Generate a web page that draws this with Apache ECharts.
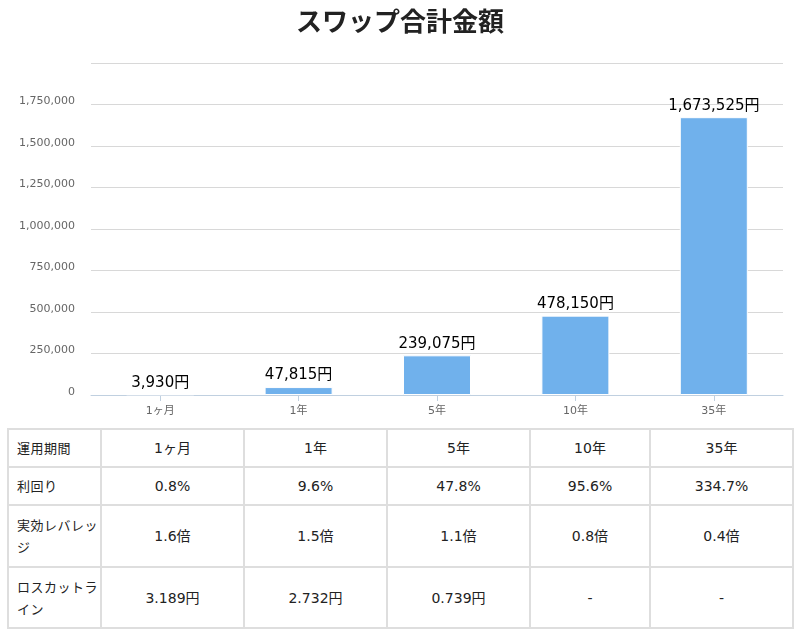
<!DOCTYPE html>
<html>
<head>
<meta charset="utf-8">
<script src="https://cdn.jsdelivr.net/npm/echarts@6/dist/echarts.min.js"></script>
<style>
  html, body { margin: 0; padding: 0; background: #fff; }
  body { width: 800px; height: 633px; position: relative; font-family: "DejaVu Sans", "Noto Sans CJK JP", sans-serif; }
  #chart { position: absolute; left: 0; top: 0; width: 800px; height: 420px; }
  table { position: absolute; left: 7px; top: 428px; border-collapse: collapse; table-layout: fixed; font-size: 14px; color: #222; }
  td { border: 2px solid #dedede; text-align: center; padding: 0; line-height: 22px; }
  td.h { text-align: left; padding: 0 1px 0 8px; font-family: "Noto Sans CJK JP", sans-serif; font-size: 13px; letter-spacing: 0.5px; }
</style>
</head>
<body>
<div id="chart"></div>
<table id="tbl"></table>
<script>
const title = "スワップ合計金額";
const categories = ["1ヶ月", "1年", "5年", "10年", "35年"];
const swapTotals = [3930, 47815, 239075, 478150, 1673525];
const rowHeaders = ["運用期間", "利回り", "実効レバレッジ", "ロスカットライン"];
const periods = ["1ヶ月", "1年", "5年", "10年", "35年"];
const yields = ["0.8%", "9.6%", "47.8%", "95.6%", "334.7%"];
const leverage = ["1.6倍", "1.5倍", "1.1倍", "0.8倍", "0.4倍"];
const lossCut = ["3.189円", "2.732円", "0.739円", "-", "-"];

const chart = echarts.init(document.getElementById('chart'), null, { renderer: 'canvas' });
chart.setOption({
  animation: false,
  title: {
    text: title, left: 'center', top: 3,
    textStyle: { fontSize: 26, fontWeight: 'bold', color: '#222', fontFamily: 'Noto Sans CJK JP' }
  },
  grid: { left: 91, right: 17, top: 63, bottom: 25, containLabel: false },
  xAxis: {
    type: 'category', data: categories,
    axisLine: { lineStyle: { color: '#c0d0e0', width: 1 } },
    axisTick: { show: true, alignWithLabel: true, length: 6, lineStyle: { color: '#c0d0e0' } },
    axisLabel: { color: '#666', fontSize: 11, margin: 11, fontFamily: 'DejaVu Sans, Noto Sans CJK JP' }
  },
  yAxis: {
    type: 'value', min: 0, max: 2000000, interval: 250000,
    axisLine: { show: false }, axisTick: { show: false },
    splitLine: { lineStyle: { color: '#d8d8d8', width: 1 } },
    axisLabel: {
      color: '#666', fontSize: 11, margin: 16, fontFamily: 'DejaVu Sans',
      verticalAlign: 'bottom', lineHeight: 6,
      formatter: v => v >= 2000000 ? '' : v.toLocaleString('en-US')
    }
  },
  series: [{
    type: 'bar', data: swapTotals, barWidth: 68,
    itemStyle: { color: '#70b1ec', borderColor: '#ffffff', borderWidth: 1 },
    label: {
      show: true, position: 'top', distance: 4,
      color: '#000', fontSize: 15, fontWeight: 'normal', fontFamily: 'DejaVu Sans, Noto Sans CJK JP',
      formatter: p => p.value.toLocaleString('en-US') + '円'
    }
  }]
});

const colWidths = [93, 143, 143, 143, 120, 143];
const rowHeights = [38, 38, 62, 61];
const rows = [periods, yields, leverage, lossCut];
const tbl = document.getElementById('tbl');
const cg = document.createElement('colgroup');
colWidths.forEach(w => { const c = document.createElement('col'); c.style.width = w + 'px'; cg.appendChild(c); });
tbl.appendChild(cg);
rows.forEach((r, i) => {
  const tr = document.createElement('tr');
  tr.style.height = rowHeights[i] + 'px';
  const th = document.createElement('td');
  th.className = 'h'; th.textContent = rowHeaders[i];
  tr.appendChild(th);
  r.forEach(v => { const td = document.createElement('td'); td.textContent = v; tr.appendChild(td); });
  tbl.appendChild(tr);
});
</script>
</body>
</html>
